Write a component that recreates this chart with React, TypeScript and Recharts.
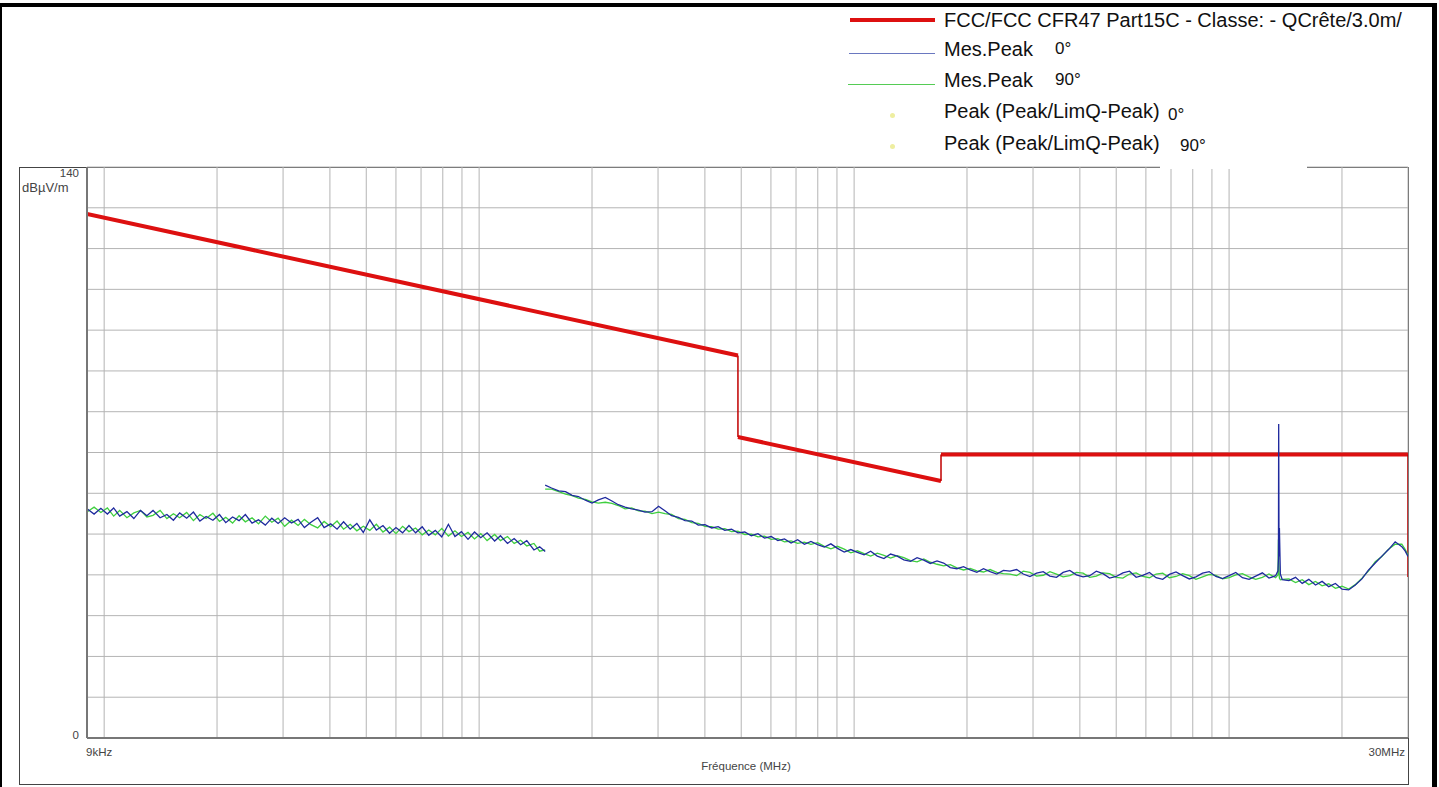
import { LineChart, Line, XAxis, YAxis, CartesianGrid } from "recharts";

// limit line corners (Hz / dBµV/m)
const LIMIT_F = [9000, 490000, 490000, 1705000, 1705000, 30000000, 30000000];
const LIMIT_DB = [128.5, 93.8, 73.8, 63.0, 69.5, 69.5, 39.5];

const X_GRID = [
  9000, 10000, 20000, 30000, 40000, 50000, 60000, 70000, 80000, 90000,
  100000, 200000, 300000, 400000, 500000, 600000, 700000, 800000, 900000,
  1000000, 2000000, 3000000, 4000000, 5000000, 6000000, 7000000, 8000000, 9000000,
  10000000, 20000000, 30000000,
];
const Y_GRID = [0, 10, 20, 30, 40, 50, 60, 70, 80, 90, 100, 110, 120, 130, 140];

// sweep 1 : 9 kHz .. 150 kHz
const SEG1_KHZ = [
  9.0, 9.4, 9.8, 10.2, 10.6, 11.0, 11.5, 12.0, 12.5, 13.0,
  13.5, 14.1, 14.7, 15.3, 15.9, 16.6, 17.3, 18.0, 18.7, 19.5,
  20.3, 21.1, 22.0, 22.9, 23.8, 24.8, 25.8, 26.9, 28.0, 29.1,
  30.3, 31.6, 32.9, 34.2, 35.6, 37.1, 38.6, 40.2, 41.8, 43.5,
  45.3, 47.2, 49.1, 51.1, 53.2, 55.4, 57.7, 60.0, 62.5, 65.0,
  67.7, 70.5, 73.4, 76.4, 79.5, 82.8, 86.2, 89.7, 93.4, 97.2,
  101, 105, 110, 114, 119, 124, 129, 134, 140, 145, 150,
];
const SEG1_BLUE = [
  56.2, 54.9, 56.3, 54.9, 56.4, 54.4, 55.5, 53.8, 55.8, 54.5,
  55.8, 54.0, 54.8, 53.4, 55.2, 53.9, 55.4, 53.2, 54.3, 53.4,
  54.8, 52.8, 54.2, 53.3, 54.8, 52.7, 53.5, 52.2, 53.9, 52.6,
  54.0, 52.7, 53.6, 51.6, 52.9, 54.0, 51.6, 52.5, 51.2, 53.0,
  51.2, 52.6, 50.4, 53.5, 51.0, 52.1, 50.2, 51.6, 50.3, 52.1,
  50.3, 51.8, 49.7, 50.9, 49.3, 52.4, 49.4, 50.6, 48.7, 50.5,
  49.1, 50.3, 48.3, 49.6, 47.7, 48.9, 47.4, 48.4, 46.1, 46.9, 45.7,
];
const SEG1_GREEN = [
  55.4, 56.6, 55.3, 56.4, 54.4, 55.8, 54.0, 55.2, 55.8, 54.2,
  54.6, 55.8, 53.8, 55.0, 54.0, 55.3, 53.3, 54.8, 53.8, 55.1,
  53.1, 54.1, 52.7, 54.5, 53.0, 54.0, 52.5, 54.4, 52.9, 53.9,
  51.9, 53.4, 52.1, 53.6, 52.3, 51.5, 53.1, 51.8, 53.2, 51.2,
  52.4, 50.8, 51.9, 50.9, 52.4, 50.5, 51.7, 50.1, 51.9, 50.6,
  51.5, 49.8, 51.0, 49.8, 51.4, 49.5, 50.8, 49.4, 50.4, 48.8,
  50.1, 48.4, 49.9, 48.4, 49.4, 47.7, 48.5, 47.1, 47.7, 45.8, 46.1,
];

// sweep 2 : 150 kHz .. 30 MHz
const SEG2_KHZ = [
  150, 156, 163, 170, 177, 184, 192, 200, 208, 217,
  226, 235, 245, 255, 266, 277, 289, 301, 313, 326,
  340, 354, 369, 384, 400, 417, 434, 452, 471, 490,
  511, 532, 554, 577, 601, 626, 652, 679, 707, 737,
  767, 799, 833, 867, 903, 941, 980, 1020, 1063, 1107,
  1153, 1201, 1251, 1303, 1357, 1414, 1472, 1534, 1597, 1664,
  1733, 1805, 1880, 1958, 2040, 2125, 2213, 2305, 2401, 2501,
  2605, 2713, 2826, 2944, 3066, 3194, 3327, 3465, 3609, 3760,
  3916, 4079, 4249, 4425, 4609, 4801, 5001, 5209, 5426, 5652,
  5887, 6132, 6387, 6653, 6930, 7218, 7519, 7832, 8158, 8497,
  8851, 9219, 9603, 10003, 10419, 10853, 11304, 11775, 12265, 12776,
  13307, 13500, 13540, 13560, 13590, 13620, 13700, 13861,
  14438, 15039, 15665, 16317, 16996, 17704, 18441, 19209, 20008, 20841,
  21709, 22612, 23554, 24534, 25556, 26620, 27728, 28883, 29500, 30000,
];
const SEG2_BLUE = [
  62.0, 61.3, 60.6, 60.4, 59.5, 59.2, 58.3, 57.6, 58.4, 59.0,
  58.1, 57.2, 56.6, 56.2, 55.9, 55.4, 55.5, 56.8, 55.7, 54.5,
  54.1, 53.3, 53.2, 52.2, 52.3, 51.5, 51.8, 50.9, 51.2, 50.3,
  50.5, 49.6, 50.1, 49.0, 49.4, 48.4, 48.8, 47.8, 48.6, 47.5,
  48.2, 47.4, 46.8, 47.6, 46.5, 45.6, 46.2, 45.5, 44.9, 45.8,
  44.6, 44.0, 45.1, 44.6, 43.7, 43.3, 44.2, 43.6, 42.8, 43.4,
  42.9, 41.8, 41.5, 42.0, 41.2, 40.6, 41.5, 40.8, 40.2, 41.1,
  40.9, 41.3, 40.2, 39.6, 40.4, 40.8, 39.7, 39.4, 40.6, 41.1,
  40.0, 39.5, 39.8, 40.9, 40.3, 39.2, 39.6, 40.5, 40.9, 39.4,
  39.9, 40.6, 39.3, 38.9, 40.1, 40.7, 39.8, 39.0, 39.5, 40.4,
  40.8, 39.6, 39.1, 39.8, 40.6, 39.3, 38.9, 39.7, 40.5, 39.2,
  39.8, 41.0, 44.0, 77.0, 44.5, 51.5, 40.2, 38.8,
  38.6, 39.4, 37.9, 38.9, 37.5, 38.4, 37.1, 37.9, 36.5, 36.3,
  37.5, 39.0, 41.2, 42.9, 44.6, 46.2, 48.1, 46.9, 45.8, 44.5,
];
const SEG2_GREEN = [
  61.0, 61.0, 60.4, 59.8, 59.4, 58.8, 58.5, 57.9, 57.6, 57.8,
  57.5, 57.0, 56.2, 56.4, 55.7, 55.6, 55.0, 55.4, 55.0, 54.8,
  53.8, 53.6, 52.8, 52.6, 51.9, 51.8, 51.2, 51.3, 50.6, 50.7,
  49.9, 50.0, 49.3, 49.5, 48.7, 48.9, 48.1, 48.3, 47.7, 48.0,
  47.5, 47.9, 47.0, 46.4, 47.0, 46.3, 45.4, 45.9, 45.2, 44.6,
  45.3, 44.8, 44.1, 44.7, 44.2, 43.5, 43.2, 43.9, 43.1, 42.6,
  42.2, 42.5, 41.7, 41.2, 41.6, 41.0, 40.7, 41.3, 40.6, 40.3,
  40.2, 39.8, 40.9, 40.6, 39.7, 39.9, 40.8, 40.2, 39.5, 39.8,
  40.6, 40.4, 39.4, 39.7, 40.5, 40.3, 39.4, 39.2, 40.2, 40.5,
  39.6, 39.3, 40.2, 40.4, 39.3, 39.6, 40.3, 39.8, 38.9, 39.5,
  40.1, 39.9, 39.0, 39.3, 40.0, 40.3, 39.5, 38.9, 39.4, 40.2,
  39.3, 40.0, 48.5, 48.8, 40.5, 39.2, 38.8, 38.9,
  39.0, 38.1, 38.8, 37.6, 38.4, 37.3, 37.8, 36.7, 37.2, 36.5,
  37.6, 39.2, 41.0, 43.2, 44.5, 46.3, 47.5, 47.5, 46.2, 44.8,
];

const LEGEND_LABELS = [
  "FCC/FCC CFR47 Part15C - Classe: - QCrête/3.0m/",
  "Mes.Peak",
  "Mes.Peak",
  "Peak (Peak/LimQ-Peak)",
  "Peak (Peak/LimQ-Peak)",
];
const LEGEND_ANGLES = ["", "0°", "90°", "0°", "90°"];

const FONT = "'Liberation Sans', Arial, sans-serif";
const RED = "#dd1010";
const BLUE = "#1f2a9e";
const GREEN = "#3fcf3f";

const toPoints = (khz: number[], vals: number[]) =>
  khz.map((k, i) => ({ f: k * 1000, v: vals[i] }));

// thick segments (no vertical parts) and the thin vertical steps
const limitThick = [
  { f: LIMIT_F[0], v: LIMIT_DB[0] },
  { f: LIMIT_F[1], v: LIMIT_DB[1] },
  { f: LIMIT_F[1], v: null },
  { f: LIMIT_F[2], v: LIMIT_DB[2] },
  { f: LIMIT_F[3], v: LIMIT_DB[3] },
  { f: LIMIT_F[3], v: null },
  { f: LIMIT_F[4], v: LIMIT_DB[4] },
  { f: LIMIT_F[5], v: LIMIT_DB[5] },
];
const limitSteps = [
  { f: LIMIT_F[1], v: LIMIT_DB[1] },
  { f: LIMIT_F[2], v: LIMIT_DB[2] },
  { f: LIMIT_F[2], v: null },
  { f: LIMIT_F[3], v: LIMIT_DB[3] },
  { f: LIMIT_F[4], v: LIMIT_DB[4] },
  { f: LIMIT_F[4], v: null },
  { f: LIMIT_F[5], v: LIMIT_DB[5] },
  { f: LIMIT_F[6], v: LIMIT_DB[6] },
];

const XTick = (props: any) => {
  const { x, payload } = props;
  if (payload.value === 9000)
    return (
      <text x={x - 1} y={756} fontSize={11.5} fontFamily={FONT} fill="#444" textAnchor="start">
        9kHz
      </text>
    );
  if (payload.value === 30000000)
    return (
      <text x={x - 3} y={756} fontSize={11.5} fontFamily={FONT} fill="#444" textAnchor="end">
        30MHz
      </text>
    );
  return <g />;
};

const YTick = (props: any) => {
  const { y, payload } = props;
  if (payload.value === 140)
    return (
      <text x={79} y={y + 10} fontSize={11.5} fontFamily={FONT} fill="#444" textAnchor="end">
        140
      </text>
    );
  if (payload.value === 0)
    return (
      <text x={79} y={y + 1} fontSize={11.5} fontFamily={FONT} fill="#444" textAnchor="end">
        0
      </text>
    );
  return <g />;
};

const legendText = { position: "absolute" as const, fontFamily: FONT, fontSize: 20, color: "#111", lineHeight: "22px", whiteSpace: "nowrap" as const };

export default function App() {
  const rowY = [20, 49, 80, 111, 143];
  const angleX = [0, 1055, 1055, 1168, 1180];
  const angleDy = [0, 0, 0, 4, 3];
  return (
    <div style={{ position: "absolute", left: 0, top: 0, width: 1439, height: 787, background: "#fff", overflow: "hidden" }}>
      {/* outer frame */}
      <div style={{ position: "absolute", left: 0, top: 3, width: 1437, height: 4, background: "#000" }} />
      <div style={{ position: "absolute", left: 0, top: 3, width: 2, height: 784, background: "#000" }} />
      <div style={{ position: "absolute", left: 1432, top: 3, width: 5, height: 784, background: "#000" }} />
      {/* chart panel */}
      <div style={{ position: "absolute", left: 19, top: 167, width: 1390, height: 618, border: "1px solid #444", boxSizing: "border-box" }} />

      <div style={{ position: "absolute", left: 0, top: 0 }}>
        <LineChart width={1439} height={787} margin={{ top: 167, right: 31, left: 19, bottom: 2 }}>
          <CartesianGrid stroke="#b4b4b4" strokeWidth={1} />
          <XAxis
            type="number"
            dataKey="f"
            scale="log"
            domain={[9000, 30000000]}
            allowDataOverflow
            ticks={X_GRID}
            interval={0}
            tick={<XTick />}
            tickLine={false}
            axisLine={{ stroke: "#777", strokeWidth: 2 }}
            height={47}
            label={{
              content: () => (
                <text x={746} y={770} fontSize={11.5} fontFamily={FONT} fill="#444" textAnchor="middle">
                  Fréquence (MHz)
                </text>
              ),
            }}
          />
          <YAxis
            type="number"
            domain={[0, 140]}
            allowDataOverflow
            ticks={Y_GRID}
            interval={0}
            tick={<YTick />}
            tickLine={false}
            axisLine={{ stroke: "#777", strokeWidth: 2 }}
            width={68}
            label={{
              content: () => (
                <text x={22} y={192} fontSize={13} fontFamily={FONT} fill="#444" textAnchor="start">
                  dBµV/m
                </text>
              ),
            }}
          />
          <Line data={limitThick} dataKey="v" stroke={RED} strokeWidth={4} dot={false} isAnimationActive={false} />
          <Line data={limitSteps} dataKey="v" stroke="#c00000" strokeWidth={1.5} dot={false} isAnimationActive={false} />
          <Line data={toPoints(SEG1_KHZ, SEG1_GREEN)} dataKey="v" stroke={GREEN} strokeWidth={1.3} dot={false} isAnimationActive={false} />
          <Line data={toPoints(SEG2_KHZ, SEG2_GREEN)} dataKey="v" stroke={GREEN} strokeWidth={1.3} dot={false} isAnimationActive={false} />
          <Line data={toPoints(SEG1_KHZ, SEG1_BLUE)} dataKey="v" stroke={BLUE} strokeWidth={1.3} dot={false} isAnimationActive={false} />
          <Line data={toPoints(SEG2_KHZ, SEG2_BLUE)} dataKey="v" stroke={BLUE} strokeWidth={1.3} dot={false} isAnimationActive={false} />
        </LineChart>
      </div>

      {/* legend */}
      <div style={{ position: "absolute", left: 1160, top: 165, width: 147, height: 4, background: "#fff" }} />
      <div style={{ position: "absolute", left: 850, top: 18, width: 85, height: 4, background: RED }} />
      <div style={{ position: "absolute", left: 849, top: 53, width: 86, height: 1, background: "#6a78c0" }} />
      <div style={{ position: "absolute", left: 848, top: 84, width: 87, height: 1, background: "#55cc55" }} />
      <div style={{ position: "absolute", left: 890, top: 113, width: 5, height: 5, borderRadius: 3, background: "#eeeea0" }} />
      <div style={{ position: "absolute", left: 890, top: 144, width: 5, height: 5, borderRadius: 3, background: "#eeeea0" }} />
      {LEGEND_LABELS.map((label, i) => (
        <div key={"l" + i} style={{ ...legendText, left: 944, top: rowY[i] - 11 }}>
          {label}
        </div>
      ))}
      {LEGEND_ANGLES.map((a, i) =>
        a ? (
          <div key={"a" + i} style={{ ...legendText, fontSize: 17, left: angleX[i], top: rowY[i] - 11 + angleDy[i] }}>
            {a}
          </div>
        ) : null
      )}
    </div>
  );
}
